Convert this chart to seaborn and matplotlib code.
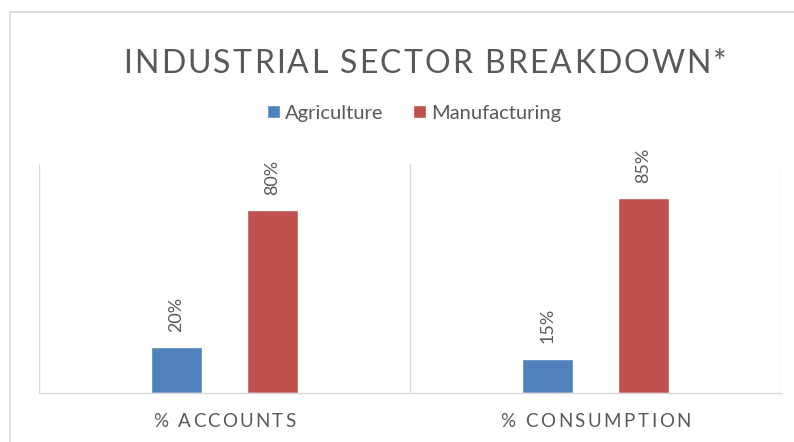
import matplotlib
matplotlib.use("Agg")
import matplotlib.pyplot as plt
from matplotlib.lines import Line2D
import seaborn as sns
import pandas as pd

# ---- data ----
categories = ["% ACCOUNTS", "% CONSUMPTION"]
series_names = ["Agriculture", "Manufacturing"]
agriculture = [0.20, 0.15]
manufacturing = [0.80, 0.85]
title_text = "INDUSTRIAL SECTOR BREAKDOWN*"

BLUE = "#4F81BD"
RED = "#C0504D"
TXT = "#595959"
GRID = "#D9D9D9"
FONT = ["Lato", "DejaVu Sans"]

df = pd.DataFrame({
    "category": categories * 2,
    "sector": [series_names[0]] * 2 + [series_names[1]] * 2,
    "value": agriculture + manufacturing,
})

sns.set_theme(style="white")
plt.rcParams["font.family"] = FONT

W, H = 794, 442
fig = plt.figure(figsize=(W / 100, H / 100), dpi=100)
ax = fig.add_axes([39 / W, 1 - 393 / H, (781 - 39) / W, (393 - 164) / H])

sns.barplot(data=df, x="category", y="value", hue="sector", order=categories,
            hue_order=series_names, palette=[BLUE, RED], saturation=1,
            width=0.516, gap=0.469, ax=ax, errorbar=None)

ax.set_ylim(0, 1)
ax.set_xlim(-0.5, len(categories) - 0.5)
for s in ["top", "right", "left"]:
    ax.spines[s].set_visible(False)
ax.spines["bottom"].set_color(GRID)
ax.spines["bottom"].set_linewidth(1)
ax.set_yticks([])
ax.set_xticks(range(len(categories)))
ax.set_xticklabels([])
ax.tick_params(axis="x", length=0)
ax.set_xlabel("")
ax.set_ylabel("")
for xb in [i - 0.5 for i in range(len(categories) + 1)]:
    ax.axvline(xb, color=GRID, lw=1, zorder=0)

for cont in ax.containers:
    ax.bar_label(cont, labels=[f"{v:.0%}" for v in cont.datavalues], rotation=90,
                 padding=11, color=TXT, fontsize=13, family=FONT)

sns.move_legend(ax, "center", bbox_to_anchor=(414 / W, 1 - 113 / H),
                bbox_transform=fig.transFigure, ncol=2, frameon=False, title=None,
                fontsize=14.5, handlelength=0.65, handleheight=0.65,
                handletextpad=0.25, columnspacing=1.45, borderpad=0)
for t in ax.get_legend().get_texts():
    t.set_color(TXT)

renderer = fig.canvas.get_renderer()


def text_width(txt, **kw):
    t = fig.text(0, 0, txt, **kw)
    w = t.get_window_extent(renderer).width
    t.remove()
    return w


def spaced_text(cx_px, base_px, s, target_w, **kw):
    wI = text_width("I", **kw)
    starts = [0.0] + [text_width(s[:i] + "I", **kw) - wI for i in range(1, len(s))]
    natural = text_width(s, **kw)
    spacing = (target_w - natural) / (len(s) - 1)
    x0 = cx_px - target_w / 2
    for i, ch in enumerate(s):
        if ch == " ":
            continue
        fig.text((x0 + starts[i] + i * spacing) / W, 1 - base_px / H, ch,
                 ha="left", va="baseline", **kw)


# title
spaced_text(425, 73, title_text, 603, fontsize=23, color=TXT, family=FONT,
            fontweight="normal")

# category labels
label_widths = [142, 190]
for i, cat in enumerate(categories):
    cx = ax.transData.transform((i, 0))[0]
    spaced_text(cx, 427, cat, label_widths[i], fontsize=13.5, color=TXT, family=FONT)

# outer chart frame (partially visible)
fig.add_artist(Line2D([10 / W, 1], [1 - 12 / H, 1 - 12 / H], color=GRID, lw=1.2,
                      transform=fig.transFigure))
fig.add_artist(Line2D([10 / W, 10 / W], [1 - 12 / H, 0], color=GRID, lw=1.2,
                      transform=fig.transFigure))

fig.savefig("out.png", dpi=100, facecolor="white")
